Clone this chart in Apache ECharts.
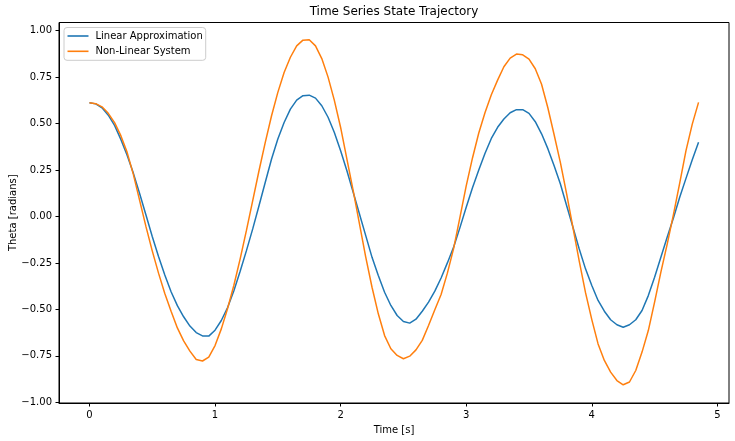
<!DOCTYPE html>
<html><head><meta charset="utf-8">
<script src="https://cdn.jsdelivr.net/npm/echarts@6/dist/echarts.min.js"></script>
<style>html,body{margin:0;padding:0;background:#fff}#c{width:735px;height:441px}</style>
</head><body><div id="c"></div>
<script>
const times = [0,0.05,0.1,0.15,0.2,0.25,0.3,0.35,0.4,0.45,0.5,0.55,0.6,0.65,0.7,0.75,0.8,0.85,0.9,0.95,
  1,1.05,1.1,1.15,1.2,1.25,1.3,1.35,1.4,1.45,1.5,1.55,1.6,1.65,1.7,1.75,1.8,1.85,1.9,1.95,
  2,2.05,2.1,2.15,2.2,2.25,2.3,2.35,2.4,2.45,2.5,2.55,2.6,2.65,2.7,2.75,2.8,2.85,2.9,2.95,
  3,3.05,3.1,3.15,3.2,3.25,3.3,3.35,3.4,3.45,3.5,3.55,3.6,3.65,3.7,3.75,3.8,3.85,3.9,3.95,
  4,4.05,4.1,4.15,4.2,4.25,4.3,4.35,4.4,4.45,4.5,4.55,4.6,4.65,4.7,4.75,4.8,4.85];

const linearTheta = [0.612,0.606,0.585,0.545,0.490,0.415,0.330,0.232,0.122,0.008,-0.108,-0.215,-0.315,-0.405,-0.480,-0.540,-0.590,-0.625,-0.643,-0.644,
  -0.612,-0.560,-0.490,-0.400,-0.295,-0.184,-0.067,0.058,0.184,0.309,0.417,0.506,0.578,0.626,0.650,0.653,0.637,0.596,0.534,0.452,
  0.354,0.246,0.130,0.013,-0.103,-0.220,-0.318,-0.408,-0.479,-0.533,-0.565,-0.574,-0.553,-0.510,-0.461,-0.402,-0.331,-0.250,-0.164,-0.060,
  0.050,0.155,0.250,0.340,0.420,0.480,0.525,0.558,0.575,0.575,0.555,0.510,0.445,0.365,0.273,0.175,0.058,-0.058,-0.175,-0.282,
  -0.372,-0.452,-0.510,-0.556,-0.583,-0.596,-0.583,-0.556,-0.506,-0.426,-0.327,-0.219,-0.112,-0.008,0.103,0.205,0.305,0.399];

const nonLinearTheta = [0.612,0.607,0.590,0.555,0.505,0.435,0.345,0.225,0.085,-0.055,-0.185,-0.305,-0.415,-0.510,-0.600,-0.670,-0.725,-0.770,-0.778,-0.757,
  -0.695,-0.605,-0.495,-0.370,-0.228,-0.075,0.085,0.246,0.399,0.542,0.668,0.775,0.857,0.918,0.949,0.951,0.918,0.850,0.750,0.625,
  0.479,0.309,0.139,-0.040,-0.219,-0.381,-0.524,-0.641,-0.712,-0.748,-0.766,-0.752,-0.718,-0.667,-0.587,-0.502,-0.420,-0.305,-0.172,-0.005,
  0.165,0.315,0.449,0.560,0.655,0.734,0.806,0.852,0.874,0.870,0.847,0.795,0.712,0.585,0.440,0.290,0.120,-0.060,-0.240,-0.410,
  -0.555,-0.686,-0.775,-0.838,-0.883,-0.906,-0.891,-0.829,-0.730,-0.614,-0.461,-0.300,-0.150,0.010,0.180,0.354,0.497,0.614];

const xTicks = [0,1,2,3,4,5];
const yTicks = [-1,-0.75,-0.5,-0.25,0,0.25,0.5,0.75,1];
const seriesNames = ['Linear Approximation','Non-Linear System'];
const seriesColors = ['#1f77b4','#ff7f0e'];

const FONT = 'DejaVu Sans';
const chart = echarts.init(document.getElementById('c'), null, {renderer:'canvas'});
const pairs = arr => times.map((t,i)=>[t, arr[i]]);
const fmtY = v => (v < 0 ? '\u2212' : '') + Math.abs(v).toFixed(2);
const fmtX = v => (v < 0 ? '\u2212' : '') + Math.abs(v);

chart.setOption({
  animation:false,
  backgroundColor:'#ffffff',
  title:{text:'Time Series State Trajectory', left:394, top:6, textAlign:'center', padding:0,
    textStyle:{fontFamily:FONT,fontSize:12,fontWeight:'normal',color:'#000'}},
  legend:{orient:'vertical', left:64, top:27.5, padding:[2.5,3,3,3.5], itemGap:3.3,
    itemWidth:21, itemHeight:1.6, icon:'rect',
    backgroundColor:'rgba(255,255,255,0.8)', borderColor:'#cccccc', borderWidth:1, borderRadius:3,
    textStyle:{fontFamily:FONT,fontSize:10,color:'#000',lineHeight:12,padding:[0,0,0,2]},
    data:seriesNames},
  grid:{left:59,right:6,top:22.5,bottom:38,show:true,borderColor:'#000',borderWidth:1,
    containLabel:false, outerBoundsMode:'none'},
  xAxis:{type:'value', min:-0.2425, max:5.0925,
    name:'Time [s]', nameLocation:'middle', nameGap:22, nameMoveOverlap:false,
    nameTextStyle:{fontFamily:FONT,fontSize:10,color:'#000'},
    axisLine:{show:true,onZero:false,lineStyle:{color:'#000',width:1}},
    axisTick:{show:true,inside:false,length:3.5,customValues:xTicks,lineStyle:{color:'#000',width:1}},
    axisLabel:{customValues:xTicks,margin:7,fontFamily:FONT,fontSize:10,color:'#000',formatter:fmtX},
    splitLine:{show:false}},
  yAxis:{type:'value', min:-1.004, max:1.044,
    name:'Theta [radians]', nameLocation:'middle', nameGap:41, nameMoveOverlap:false,
    nameTextStyle:{fontFamily:FONT,fontSize:10,color:'#000'},
    axisLine:{show:true,onZero:false,lineStyle:{color:'#000',width:1}},
    axisTick:{show:true,inside:false,length:3.5,customValues:yTicks,lineStyle:{color:'#000',width:1}},
    axisLabel:{customValues:yTicks,margin:7,fontFamily:FONT,fontSize:10,color:'#000',formatter:fmtY},
    splitLine:{show:false}},
  series:[
    {name:seriesNames[0], type:'line', data:pairs(linearTheta), symbol:'none', showSymbol:false,
      lineStyle:{width:1.5,color:seriesColors[0]}, itemStyle:{color:seriesColors[0]}},
    {name:seriesNames[1], type:'line', data:pairs(nonLinearTheta), symbol:'none', showSymbol:false,
      lineStyle:{width:1.5,color:seriesColors[1]}, itemStyle:{color:seriesColors[1]}}
  ]
});
</script></body></html>
